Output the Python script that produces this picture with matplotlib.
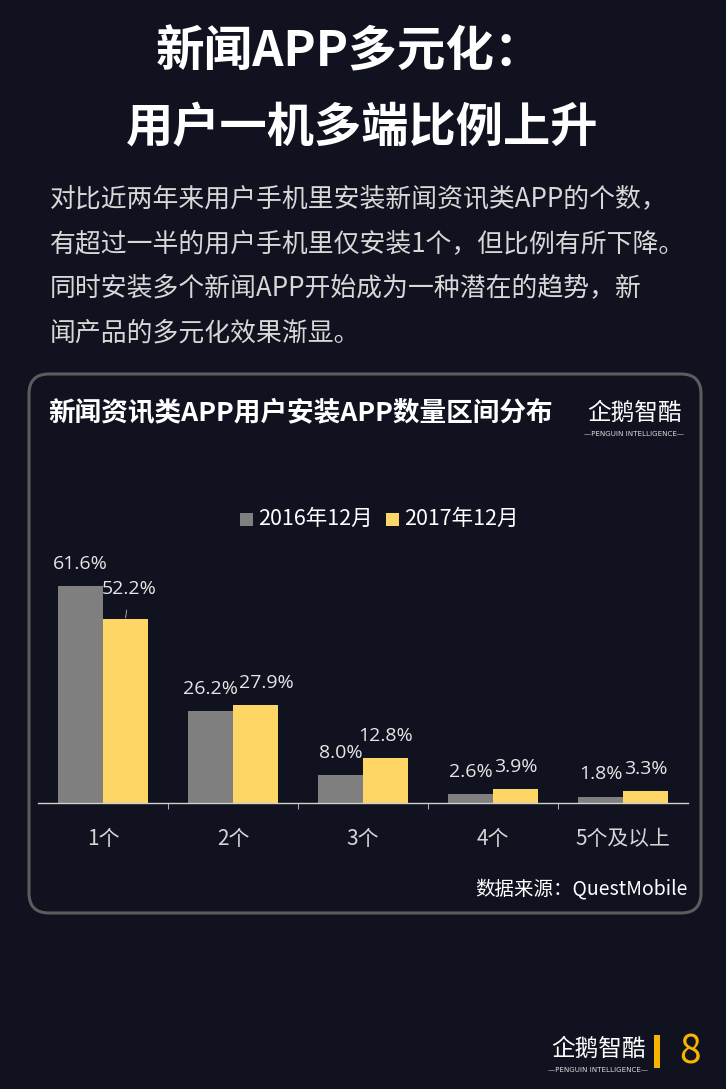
import matplotlib
matplotlib.use("Agg")
import matplotlib.pyplot as plt
from matplotlib.patches import FancyBboxPatch, Rectangle
import numpy as np

plt.rcParams['font.family'] = ['Noto Sans CJK SC', 'DejaVu Sans']

# ── data ──────────────────────────────────────────────────────────────────────
categories = ["1个", "2个", "3个", "4个", "5个及以上"]
series_names = ["2016年12月", "2017年12月"]
values_2016 = [61.6, 26.2, 8.0, 2.6, 1.8]
values_2017 = [52.2, 27.9, 12.8, 3.9, 3.3]

title_lines = ["新闻APP多元化：", "用户一机多端比例上升"]
body_lines = [
    "对比近两年来用户手机里安装新闻资讯类APP的个数，",
    "有超过一半的用户手机里仅安装1个，但比例有所下降。",
    "同时安装多个新闻APP开始成为一种潜在的趋势，新",
    "闻产品的多元化效果渐显。",
]
chart_title = "新闻资讯类APP用户安装APP数量区间分布"
source_text = "数据来源：QuestMobile"
page_no = "8"

# ── styles ────────────────────────────────────────────────────────────────────
BG = "#10121f"
GRAY = "#7f7f7f"
YELLOW = "#fed665"
W, H = 726, 1089

fig = plt.figure(figsize=(W / 100, H / 100), dpi=100, facecolor=BG)

# pixel-space background layer
bg = fig.add_axes([0, 0, 1, 1])
bg.set_xlim(0, W)
bg.set_ylim(H, 0)
bg.axis("off")
bg.set_facecolor(BG)

bg.text(350, 52, title_lines[0], color="white", fontsize=35, fontweight="bold",
        ha="center", va="center")
bg.text(362, 127, title_lines[1], color="white", fontsize=34, fontweight="bold",
        ha="center", va="center")

for i, line in enumerate(body_lines):
    bg.text(50, 199 + i * 44.5, line, color="#d8d8d8", fontsize=18.6,
            ha="left", va="center")

box = FancyBboxPatch((29, 374), 672, 539, boxstyle="round,pad=0,rounding_size=20",
                     facecolor="none", edgecolor="#5c5c5e", linewidth=2.2)
bg.add_patch(box)

bg.text(48, 414, chart_title, color="white", fontsize=19.2, fontweight="bold",
        ha="left", va="center")

# logo (text approximation)
def logo(x, y, size):
    bg.text(x, y, "企鹅智酷", color="white", fontsize=size, ha="center", va="center")
    bg.text(x, y + size * 1.25, "—PENGUIN INTELLIGENCE—", color="#dddddd",
            fontsize=size * 0.3, ha="center", va="center", family="DejaVu Sans")

logo(634, 413, 17)
logo(598, 1049, 17)
bg.add_patch(Rectangle((654, 1035), 6, 33, facecolor="#f7b500", edgecolor="none"))
bg.text(690, 1052, page_no, color="#f7b500", fontsize=28, ha="center", va="center")

bg.text(688, 889, source_text, color="white", fontsize=14, ha="right", va="center")

# legend
for k, (name, col, x0) in enumerate(zip(series_names, [GRAY, YELLOW], [240, 386])):
    bg.add_patch(Rectangle((x0, 513), 13, 13, facecolor=col, edgecolor="none"))
    bg.text(x0 + 18, 519, name, color="white", fontsize=15.5, ha="left", va="center")

# ── chart ─────────────────────────────────────────────────────────────────────
ymax = 70
ax = fig.add_axes([38 / W, (H - 803) / H, 650 / W, ymax * 3.52 / H])
ax.set_facecolor("none")
x = np.arange(len(categories))
bw = 0.345
ax.bar(x - bw / 2, values_2016, width=bw, color=GRAY, zorder=2)
ax.bar(x + bw / 2, values_2017, width=bw, color=YELLOW, zorder=2)
ax.set_xlim(-0.5, len(categories) - 0.5)
ax.set_ylim(0, ymax)

for s in ["top", "right", "left"]:
    ax.spines[s].set_visible(False)
ax.spines["bottom"].set_color("#d0d0d0")
ax.spines["bottom"].set_linewidth(1)
ax.set_yticks([])
ax.set_xticks(x)
ax.set_xticklabels(categories, color="#d6d6d6", fontsize=15)
ax.tick_params(axis="x", which="major", length=0, pad=18)
ax.set_xticks(np.arange(0.5, len(categories) - 0.5), minor=True)
ax.tick_params(axis="x", which="minor", length=4, color="#d0d0d0", direction="out")

lbl_kw = dict(color="#e6e6e6", fontsize=14, ha="center", va="center",
              textcoords="offset points", family=["Open Sans", "DejaVu Sans"])
for i, v in enumerate(values_2016):
    ax.annotate(f"{v:.1f}%", (x[i] - bw / 2, v), xytext=(0, 16), **lbl_kw)
for i, v in enumerate(values_2017):
    dx, dy = 0, 16
    extra = {}
    if i == 0:
        dx, dy = 3, 22
        extra = dict(arrowprops=dict(arrowstyle="-", color="#bbbbbb", lw=0.6,
                                     shrinkA=7, shrinkB=1))
    if i == 1:
        dx = 8
    ax.annotate(f"{v:.1f}%", (x[i] + bw / 2, v), xytext=(dx, dy), **lbl_kw, **extra)

fig.savefig("out.png", dpi=100, facecolor=BG)
